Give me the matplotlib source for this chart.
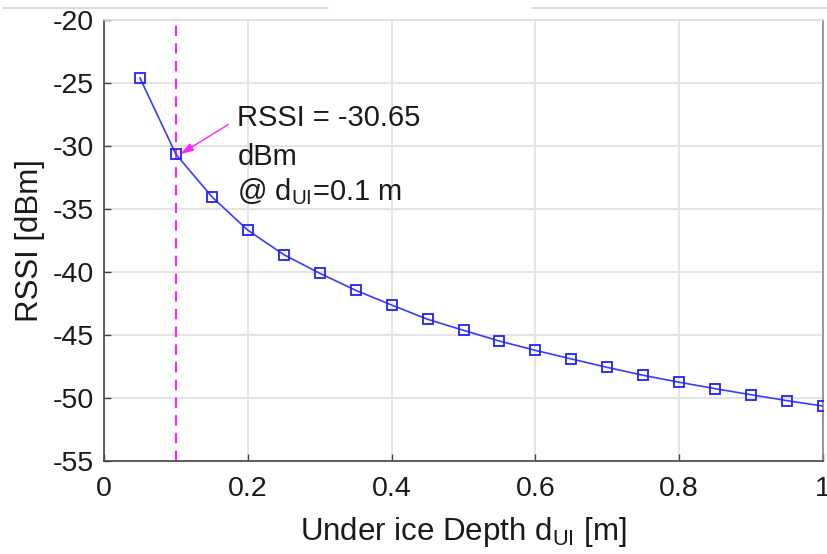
import matplotlib
matplotlib.use("Agg")
import matplotlib.pyplot as plt
from matplotlib.lines import Line2D

plt.rcParams['font.family'] = ['Liberation Sans', 'DejaVu Sans']
plt.rcParams['axes.unicode_minus'] = False
plt.rcParams['mathtext.fontset'] = 'custom'
plt.rcParams['mathtext.rm'] = 'Liberation Sans'

# Under-ice depth (m) and received signal strength (dBm)
depth_m = [0.05, 0.10, 0.15, 0.20, 0.25, 0.30, 0.35, 0.40, 0.45, 0.50,
           0.55, 0.60, 0.65, 0.70, 0.75, 0.80, 0.85, 0.90, 0.95, 1.00]
rssi_dbm = [-24.6, -30.65, -34.03, -36.68, -38.62, -40.10, -41.45, -42.62,
            -43.75, -44.63, -45.48, -46.22, -46.90, -47.57, -48.20, -48.75,
            -49.26, -49.74, -50.21, -50.64]

marked_depth = 0.1
marked_rssi = -30.65

x_ticks = [0, 0.2, 0.4, 0.6, 0.8, 1]
x_tick_labels = ['0', '0.2', '0.4', '0.6', '0.8', '1']
y_ticks = [-55, -50, -45, -40, -35, -30, -25, -20]

fig = plt.figure(figsize=(8.27, 5.54), dpi=100)
ax = fig.add_axes([104 / 827, 1 - 461 / 554, (823 - 104) / 827, (461 - 20) / 554])

ax.plot(depth_m, rssi_dbm, color='#3a3aff', lw=1.2, marker='s', ms=6.5,
        mfc='none', mec='#2020ff', mew=1.3, zorder=3)
ax.axvline(marked_depth, color='#ff22ff', lw=1.5, ls=(0, (5, 3.5)), zorder=2)

ax.annotate('', xy=(marked_depth + 0.006, marked_rssi),
            xytext=(0.1727, -28.3),
            arrowprops=dict(arrowstyle='-|>,head_length=0.8,head_width=0.25',
                            color='#ff22ff', lw=1.0, shrinkA=0, shrinkB=0))

# annotation block, one line at a time
text_kw = dict(fontsize=21, color='#1a1a1a', va='center', ha='left', zorder=4)
ax.text(0.1856, -27.75, f'RSSI = {marked_rssi:.2f}', **text_kw)
ax.text(0.1856, -30.85, 'dBm', **text_kw)
ax.text(0.1856, -33.65,
        f'@ d$_{{\\mathrm{{UI}}}}$={marked_depth:g} m', **text_kw)

ax.set_xlim(0, 1)
ax.set_ylim(-55, -20)
ax.set_xticks(x_ticks)
ax.set_xticklabels(x_tick_labels)
ax.set_yticks(y_ticks)
ax.grid(True, color='#e2e2e2', lw=1.3)
ax.set_axisbelow(True)

for side in ('left', 'bottom'):
    ax.spines[side].set_color('#444444')
    ax.spines[side].set_linewidth(1.2)
ax.spines['top'].set_color('#dddddd')
ax.spines['top'].set_linewidth(1.2)
ax.spines['right'].set_color('#888888')
ax.spines['right'].set_linewidth(1.2)

ax.tick_params(axis='both', direction='in', length=5, width=1.0,
               color='#444444', labelsize=20.5, labelcolor='#1a1a1a')
ax.tick_params(axis='x', pad=11)
ax.tick_params(axis='y', pad=7)

ax.set_xlabel('Under ice Depth d$_{\\mathrm{UI}}$ [m]', fontsize=22.5,
              color='#1a1a1a', labelpad=9)
ax.set_ylabel('RSSI [dBm]', fontsize=22.5, color='#1a1a1a', labelpad=6)

# faint rules along the top edge of the page
for x0, x1 in [(3, 328), (532, 827)]:
    fig.add_artist(Line2D([x0 / 827, x1 / 827], [1 - 8 / 554, 1 - 8 / 554],
                          transform=fig.transFigure, color='#d6d6d6', lw=1.2))

fig.savefig('out.png', dpi=100)
